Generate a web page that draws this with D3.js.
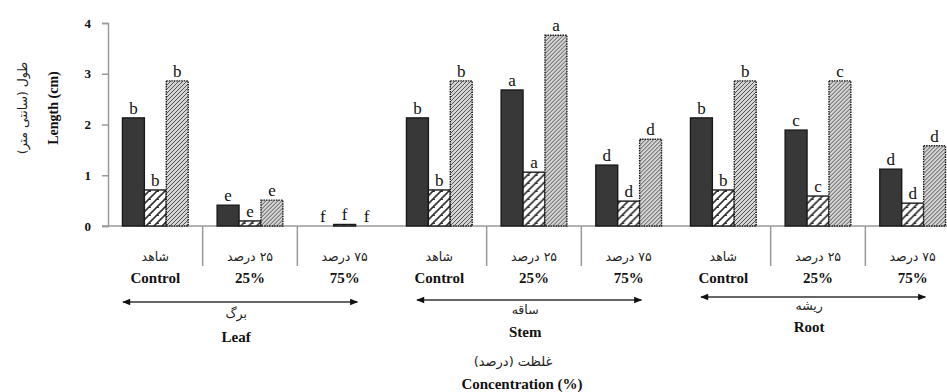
<!DOCTYPE html>
<html>
<head>
<meta charset="utf-8">
<script src="https://cdn.jsdelivr.net/npm/d3@7"></script>
<style>
  html, body { margin: 0; padding: 0; background: #fff; }
  svg { display: block; }
</style>
</head>
<body>
<svg id="chart" width="947" height="392"></svg>
<script>
// ---- data ----
const categories = ["leafControl","leaf25","leaf75","stemControl","stem25","stem75","rootControl","root25","root75"];
const catLabelsFa = ["شاهد","۲۵ درصد","۷۵ درصد","شاهد","۲۵ درصد","۷۵ درصد","شاهد","۲۵ درصد","۷۵ درصد"];
const catLabelsEn = ["Control","25%","75%","Control","25%","75%","Control","25%","75%"];
const seriesNames = ["s1","s2","s3"];
const s1Values = [2.13, 0.41, 0.0, 2.13, 2.68, 1.20, 2.13, 1.89, 1.12];
const s2Values = [0.71, 0.10, 0.03, 0.71, 1.06, 0.49, 0.71, 0.59, 0.45];
const s3Values = [2.86, 0.51, 0.0, 2.86, 3.76, 1.71, 2.86, 2.86, 1.58];
const s1Letters = ["b","e","f","b","a","d","b","c","d"];
const s2Letters = ["b","e","f","b","a","d","b","c","d"];
const s3Letters = ["b","e","f","b","a","d","b","c","d"];
const organsFa = ["برگ","ساقه","ریشه"];
const organsEn = ["Leaf","Stem","Root"];
const yTicks = [0, 1, 2, 3, 4];
const yTickLabels = ["0","1","2","3","4"];

const svg = d3.select("#chart");
const serif = "'Liberation Serif','Times New Roman',serif";
const faFont = "'DejaVu Sans',sans-serif";

// ---- patterns ----
const defs = svg.append("defs");
const p2 = defs.append("pattern").attr("id","pz").attr("patternUnits","userSpaceOnUse")
  .attr("width",8).attr("height",8);
p2.append("rect").attr("width",8).attr("height",8).attr("fill","#fff");
p2.append("path").attr("d","M-1,9 L9,-1 M-1,1 L1,-1 M7,9 L9,7").attr("stroke","#333").attr("stroke-width",1.6);
p2.append("path").attr("d","M0,7.5 L3,7.5").attr("stroke","#333").attr("stroke-width",1);
const p3 = defs.append("pattern").attr("id","pd").attr("patternUnits","userSpaceOnUse")
  .attr("width",4).attr("height",4);
p3.append("rect").attr("width",4).attr("height",4).attr("fill","#d4d4d4");
p3.append("path").attr("d","M-1,5 L5,-1 M-1,1 L1,-1 M3,5 L5,3").attr("stroke","#555").attr("stroke-width",1);

// ---- scales ----
const y = d3.scaleLinear().domain([0, 4]).range([226, 23]);
const x0 = d3.scaleBand().domain(categories).range([108, 960]);
const x1 = d3.scaleBand().domain(seriesNames).range([0, x0.bandwidth()]).paddingOuter(0.66);

const valuesBySeries = { s1: s1Values, s2: s2Values, s3: s3Values };
const lettersBySeries = { s1: s1Letters, s2: s2Letters, s3: s3Letters };
const fills = { s1: "#383838", s2: "url(#pz)", s3: "url(#pd)" };
const dash = { s1: null, s2: null, s3: "1.5,1" };

// ---- axes ----
const yAxis = d3.axisLeft(y).tickValues(yTicks).tickFormat((d,i) => yTickLabels[i]).tickSize(6).tickPadding(11);
const gy = svg.append("g").attr("transform","translate(108,0)").call(yAxis);
gy.select(".domain").attr("stroke","#9a9a9a").attr("stroke-width",1.5);
gy.selectAll(".tick line").attr("stroke","#9a9a9a").attr("stroke-width",1.5);
gy.selectAll(".tick text").attr("font-family",serif).attr("font-weight","bold").attr("font-size",13).attr("fill","#111");

// x axis line
svg.append("line").attr("x1",102).attr("x2",947).attr("y1",y(0)).attr("y2",y(0))
  .attr("stroke","#9a9a9a").attr("stroke-width",1.5);

// separators within organ groups
const seps = categories.filter((c,i) => i % 3 !== 0);
svg.append("g").selectAll("line").data(seps).join("line")
  .attr("x1", d => x0(d)).attr("x2", d => x0(d))
  .attr("y1", y(0)).attr("y2", y(0) + 40)
  .attr("stroke","#9a9a9a").attr("stroke-width",1.5);

// ---- bars ----
const groups = svg.append("g").selectAll("g").data(categories).join("g")
  .attr("transform", d => `translate(${x0(d)},0)`);
seriesNames.forEach(s => {
  groups.append("rect")
    .attr("x", x1(s)).attr("width", x1.bandwidth())
    .attr("y", (d,i) => y(valuesBySeries[s][i]))
    .attr("height", (d,i) => y(0) - y(valuesBySeries[s][i]))
    .attr("fill", fills[s])
    .attr("stroke", (d,i) => valuesBySeries[s][i] > 0 ? "#1a1a1a" : "none")
    .attr("stroke-width", 1.4)
    .attr("stroke-dasharray", dash[s]);
  groups.append("text")
    .attr("x", x1(s) + x1.bandwidth()/2)
    .attr("y", (d,i) => y(valuesBySeries[s][i]) - 4)
    .attr("text-anchor","middle")
    .attr("font-family", serif).attr("font-size", 17).attr("fill","#111")
    .text((d,i) => lettersBySeries[s][i]);
});

// ---- category labels ----
svg.append("g").selectAll("text").data(categories).join("text")
  .attr("x", d => x0(d) + x0.bandwidth()/2).attr("y", 261)
  .attr("text-anchor","middle").attr("font-family",faFont).attr("font-size",12.5).attr("fill","#222")
  .attr("direction","rtl")
  .text((d,i) => catLabelsFa[i]);
svg.append("g").selectAll("text").data(categories).join("text")
  .attr("x", d => x0(d) + x0.bandwidth()/2).attr("y", 283)
  .attr("text-anchor","middle").attr("font-family",serif).attr("font-weight","bold").attr("font-size",15).attr("fill","#111")
  .text((d,i) => catLabelsEn[i]);

// ---- organ arrows ----
defs.append("marker").attr("id","ah").attr("viewBox","0 0 10 10").attr("refX",9).attr("refY",5)
  .attr("markerWidth",11).attr("markerHeight",8).attr("orient","auto-start-reverse").attr("markerUnits","userSpaceOnUse")
  .append("path").attr("d","M0,1 L10,5 L0,9 Z").attr("fill","#111");
const organIdx = [0,1,2];
const arrowY = [302, 300, 297];
const faY = [318, 314, 310];
const enY = [342, 337, 332];
const og = svg.append("g");
organIdx.forEach(k => {
  const a = x0(categories[k*3]) + (k === 0 ? 15 : 25), b = x0(categories[k*3+2]) + 60;
  og.append("line").attr("x1", a).attr("x2", b).attr("y1", arrowY[k]).attr("y2", arrowY[k])
    .attr("stroke","#333").attr("stroke-width",1.3)
    .attr("marker-start","url(#ah)").attr("marker-end","url(#ah)");
  const c = (a + b) / 2 - 4;
  og.append("text").attr("x", c).attr("y", faY[k]).attr("text-anchor","middle")
    .attr("font-family",faFont).attr("font-size",12.5).attr("fill","#222").attr("direction","rtl").text(organsFa[k]);
  og.append("text").attr("x", c).attr("y", enY[k]).attr("text-anchor","middle")
    .attr("font-family",serif).attr("font-weight","bold").attr("font-size",15).attr("fill","#111").text(organsEn[k]);
});

// ---- axis titles ----
svg.append("text").attr("x", 513).attr("y", 366).attr("text-anchor","middle")
  .attr("font-family",faFont).attr("font-size",13).attr("fill","#222").attr("direction","rtl").text("غلظت (درصد)");
svg.append("text").attr("x", 522).attr("y", 389).attr("text-anchor","middle")
  .attr("font-family",serif).attr("font-weight","bold").attr("font-size",15).attr("fill","#111").text("Concentration (%)");
svg.append("text").attr("transform","translate(58,108) rotate(-90)").attr("text-anchor","middle")
  .attr("font-family",serif).attr("font-weight","bold").attr("font-size",14).attr("fill","#111").text("Length (cm)");
svg.append("text").attr("transform","translate(27,108) rotate(-90)").attr("text-anchor","middle")
  .attr("font-family",faFont).attr("font-size",12.5).attr("fill","#222").attr("direction","rtl").text("طول (سانتی متر)");
</script>
</body>
</html>
